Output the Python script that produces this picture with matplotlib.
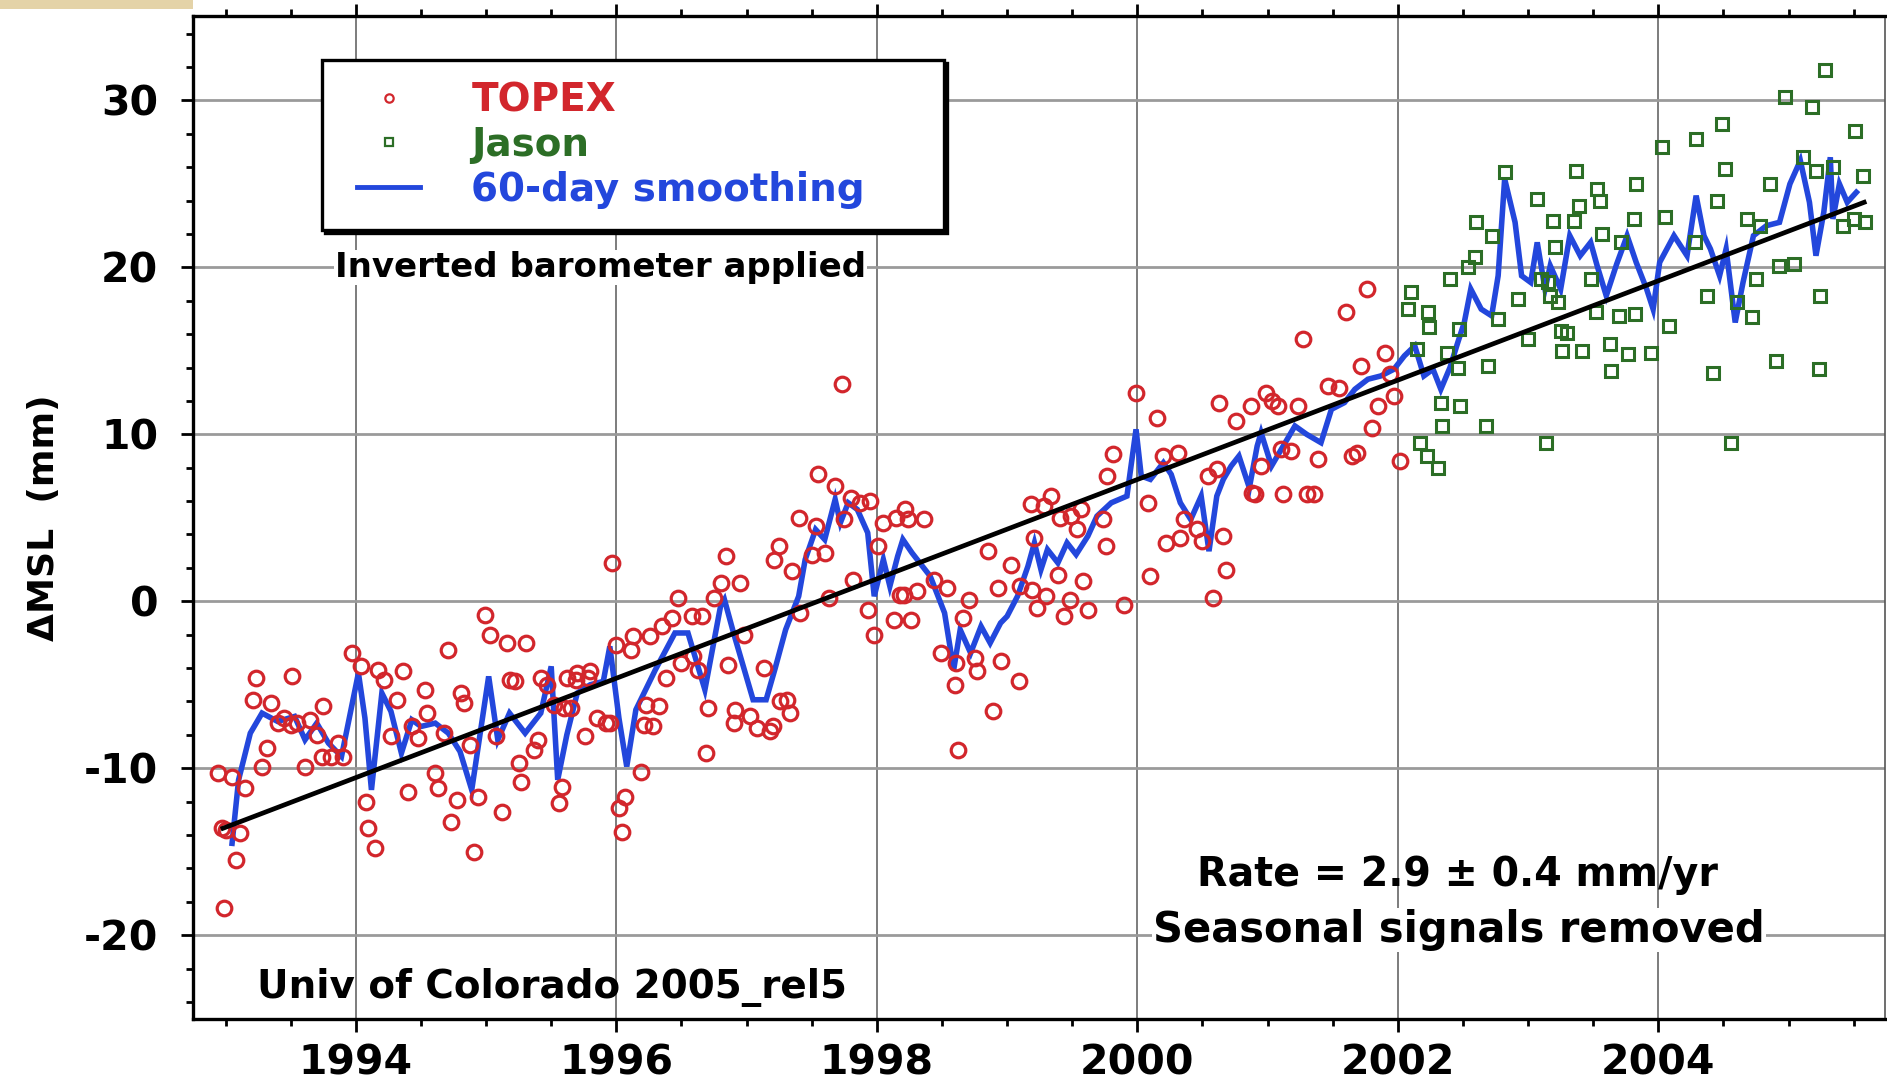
import matplotlib
matplotlib.use("Agg")
import matplotlib.pyplot as plt
from matplotlib.lines import Line2D
from matplotlib.patches import Rectangle
from matplotlib.legend_handler import HandlerLine2D

plt.rcParams['font.family'] = ['DejaVu Sans']
plt.rcParams['axes.unicode_minus'] = False

# ---------------- data ----------------
topex_years = [1992.94, 1992.97, 1992.99, 1993.00, 1993.05, 1993.08, 1993.11, 1993.15, 1993.21, 1993.23,
               1993.28, 1993.32, 1993.35, 1993.40, 1993.45, 1993.50, 1993.51, 1993.55, 1993.61, 1993.65,
               1993.70, 1993.74, 1993.75, 1993.81, 1993.86, 1993.90, 1993.97, 1994.04, 1994.08, 1994.09,
               1994.15, 1994.17, 1994.22, 1994.27, 1994.32, 1994.36, 1994.40, 1994.43, 1994.48, 1994.53,
               1994.55, 1994.61, 1994.63, 1994.68, 1994.71, 1994.73, 1994.78, 1994.81, 1994.83, 1994.88,
               1994.91, 1994.94, 1994.99, 1995.03, 1995.08, 1995.12, 1995.16, 1995.18, 1995.22, 1995.25,
               1995.27, 1995.31, 1995.37, 1995.40, 1995.42, 1995.47, 1995.52, 1995.56, 1995.58, 1995.60,
               1995.62, 1995.65, 1995.69, 1995.70, 1995.76, 1995.78, 1995.80, 1995.85, 1995.92, 1995.95,
               1995.97, 1996.00, 1996.02, 1996.04, 1996.07, 1996.11, 1996.13, 1996.19, 1996.21, 1996.23,
               1996.26, 1996.28, 1996.33, 1996.35, 1996.38, 1996.43, 1996.47, 1996.50, 1996.58, 1996.59,
               1996.63, 1996.66, 1996.69, 1996.70, 1996.75, 1996.80, 1996.84, 1996.86, 1996.90, 1996.91,
               1996.95, 1996.98, 1997.03, 1997.08, 1997.13, 1997.18, 1997.20, 1997.21, 1997.25, 1997.26,
               1997.31, 1997.33, 1997.35, 1997.40, 1997.41, 1997.50, 1997.53, 1997.55, 1997.60, 1997.63,
               1997.68, 1997.73, 1997.75, 1997.80, 1997.82, 1997.87, 1997.93, 1997.95, 1997.98, 1998.01,
               1998.05, 1998.13, 1998.15, 1998.18, 1998.21, 1998.22, 1998.24, 1998.26, 1998.31, 1998.36,
               1998.44, 1998.49, 1998.54, 1998.60, 1998.61, 1998.62, 1998.66, 1998.71, 1998.75, 1998.77,
               1998.85, 1998.89, 1998.93, 1998.95, 1999.03, 1999.09, 1999.10, 1999.18, 1999.19, 1999.21,
               1999.23, 1999.28, 1999.30, 1999.34, 1999.39, 1999.41, 1999.44, 1999.48, 1999.49, 1999.54,
               1999.57, 1999.58, 1999.62, 1999.74, 1999.76, 1999.77, 1999.81, 1999.90, 1999.99, 2000.08,
               2000.10, 2000.15, 2000.20, 2000.22, 2000.31, 2000.33, 2000.36, 2000.46, 2000.50, 2000.54,
               2000.58, 2000.61, 2000.63, 2000.66, 2000.68, 2000.76, 2000.87, 2000.88, 2000.90, 2000.95,
               2000.99, 2001.03, 2001.08, 2001.10, 2001.12, 2001.18, 2001.23, 2001.27, 2001.30, 2001.36,
               2001.39, 2001.46, 2001.55, 2001.60, 2001.65, 2001.69, 2001.72, 2001.76, 2001.80, 2001.85,
               2001.90, 2001.94, 2001.97, 2002.02]
topex_vals = [-10.3, -13.6, -18.4, -13.7, -10.5, -15.5, -13.9, -11.2, -5.9, -4.6,
              -9.9, -8.8, -6.1, -7.3, -7.0, -7.4, -4.5, -7.3, -9.9, -7.1,
              -8.0, -9.3, -6.3, -9.3, -8.5, -9.3, -3.1, -3.9, -12.0, -13.6,
              -14.8, -4.1, -4.7, -8.1, -5.9, -4.2, -11.4, -7.5, -8.2, -5.3,
              -6.7, -10.3, -11.2, -7.9, -2.9, -13.2, -11.9, -5.5, -6.1, -8.6,
              -15.0, -11.7, -0.8, -2.0, -8.1, -12.6, -2.5, -4.7, -4.8, -9.7,
              -10.8, -2.5, -8.9, -8.3, -4.6, -5.0, -6.2, -12.1, -11.1, -6.4,
              -4.6, -6.4, -4.7, -4.3, -8.1, -4.6, -4.2, -7.0, -7.3, -7.3,
              2.3, -2.6, -12.4, -13.8, -11.7, -2.9, -2.1, -10.2, -7.4, -6.2,
              -2.1, -7.5, -6.3, -1.5, -4.6, -1.0, 0.2, -3.7, -0.9, -3.3,
              -4.1, -0.9, -9.1, -6.4, 0.2, 1.1, 2.7, -3.8, -7.3, -6.5,
              1.1, -2.0, -6.9, -7.6, -4.0, -7.8, -7.5, 2.5, 3.3, -6.0,
              -5.9, -6.7, 1.8, 5.0, -0.7, 2.8, 4.5, 7.6, 2.9, 0.2,
              6.9, 13.0, 4.9, 6.2, 1.3, 5.9, -0.5, 6.0, -2.0, 3.3,
              4.7, -1.1, 5.0, 0.4, 0.4, 5.5, 4.9, -1.1, 0.6, 4.9,
              1.3, -3.1, 0.8, -5.0, -3.7, -8.9, -1.0, 0.1, -3.4, -4.2,
              3.0, -6.6, 0.8, -3.6, 2.2, -4.8, 0.9, 5.8, 0.7, 3.8,
              -0.4, 5.7, 0.3, 6.3, 1.6, 5.0, -0.9, 0.1, 5.1, 4.3,
              5.5, 1.2, -0.5, 4.9, 3.3, 7.5, 8.8, -0.2, 12.5, 5.9,
              1.5, 11.0, 8.7, 3.5, 8.9, 3.8, 4.9, 4.3, 3.6, 7.5,
              0.2, 7.9, 11.9, 3.9, 1.9, 10.8, 11.7, 6.5, 6.4, 8.1,
              12.5, 12.0, 11.7, 9.1, 6.4, 9.0, 11.7, 15.7, 6.4, 6.4,
              8.5, 12.9, 12.8, 17.3, 8.7, 8.9, 14.1, 18.7, 10.4, 11.7,
              14.9, 13.6, 12.3, 8.4]

jason_years = [2002.08, 2002.10, 2002.15, 2002.17, 2002.22, 2002.23, 2002.24, 2002.31, 2002.33, 2002.34,
               2002.38, 2002.40, 2002.46, 2002.47, 2002.48, 2002.54, 2002.59, 2002.60, 2002.68, 2002.69,
               2002.72, 2002.77, 2002.82, 2002.92, 2003.00, 2003.07, 2003.10, 2003.14, 2003.15, 2003.17,
               2003.19, 2003.21, 2003.23, 2003.25, 2003.26, 2003.30, 2003.35, 2003.37, 2003.39, 2003.41,
               2003.48, 2003.52, 2003.53, 2003.55, 2003.57, 2003.63, 2003.64, 2003.70, 2003.71, 2003.77,
               2003.81, 2003.82, 2003.83, 2003.94, 2004.03, 2004.05, 2004.08, 2004.28, 2004.29, 2004.37,
               2004.42, 2004.45, 2004.49, 2004.51, 2004.56, 2004.60, 2004.68, 2004.72, 2004.75, 2004.78,
               2004.86, 2004.90, 2004.93, 2004.97, 2005.04, 2005.11, 2005.18, 2005.21, 2005.23, 2005.24,
               2005.28, 2005.34, 2005.42, 2005.50, 2005.51, 2005.57, 2005.59]
jason_vals = [17.5, 18.5, 15.1, 9.5, 8.7, 17.3, 16.4, 8.0, 11.9, 10.5,
              14.9, 19.3, 14.0, 16.3, 11.7, 20.0, 20.6, 22.7, 10.5, 14.1,
              21.9, 16.9, 25.7, 18.1, 15.7, 24.1, 19.3, 9.5, 19.1, 18.3,
              22.8, 21.2, 17.9, 16.2, 15.0, 16.1, 22.8, 25.8, 23.7, 15.0,
              19.3, 17.3, 24.7, 24.0, 22.0, 15.4, 13.8, 17.1, 21.5, 14.8,
              22.9, 17.2, 25.0, 14.9, 27.2, 23.0, 16.5, 21.5, 27.7, 18.3,
              13.7, 24.0, 28.6, 25.9, 9.5, 17.9, 22.9, 17.0, 19.3, 22.5,
              25.0, 14.4, 20.1, 30.2, 20.2, 26.6, 29.6, 25.8, 13.9, 18.3,
              31.8, 26.0, 22.5, 22.9, 28.2, 25.5, 22.7]

smooth_years = [1993.05, 1993.10, 1993.19, 1993.28, 1993.40, 1993.53, 1993.61, 1993.70, 1993.79, 1993.89,
                1993.95, 1994.02, 1994.07, 1994.12, 1994.20, 1994.27, 1994.35, 1994.43, 1994.50, 1994.61,
                1994.71, 1994.80, 1994.89, 1995.02, 1995.09, 1995.18, 1995.30, 1995.42, 1995.50, 1995.55,
                1995.62, 1995.70, 1995.80, 1995.90, 1995.95, 1996.02, 1996.08, 1996.15, 1996.30, 1996.45,
                1996.55, 1996.68, 1996.80, 1996.83, 1996.90, 1997.05, 1997.15, 1997.22, 1997.30, 1997.40,
                1997.45, 1997.53, 1997.60, 1997.68, 1997.72, 1997.78, 1997.85, 1997.93, 1997.98, 1998.05,
                1998.10, 1998.16, 1998.20, 1998.27, 1998.41, 1998.52, 1998.59, 1998.64, 1998.72, 1998.80,
                1998.87, 1998.95, 1999.00, 1999.08, 1999.16, 1999.21, 1999.26, 1999.31, 1999.39, 1999.46,
                1999.53, 1999.62, 1999.69, 1999.80, 1999.92, 1999.99, 2000.03, 2000.10, 2000.20, 2000.26,
                2000.33, 2000.41, 2000.49, 2000.55, 2000.61, 2000.66, 2000.72, 2000.78, 2000.86, 2000.92,
                2000.95, 2001.03, 2001.12, 2001.21, 2001.30, 2001.41, 2001.49, 2001.59, 2001.67, 2001.77,
                2001.87, 2001.97, 2002.05, 2002.13, 2002.20, 2002.27, 2002.33, 2002.40, 2002.46, 2002.51,
                2002.56, 2002.64, 2002.72, 2002.77, 2002.82, 2002.90, 2002.95, 2003.02, 2003.07, 2003.13,
                2003.17, 2003.25, 2003.32, 2003.40, 2003.48, 2003.53, 2003.60, 2003.68, 2003.76, 2003.83,
                2003.91, 2003.96, 2004.01, 2004.12, 2004.22, 2004.29, 2004.35, 2004.40, 2004.47, 2004.52,
                2004.59, 2004.65, 2004.73, 2004.83, 2004.93, 2005.01, 2005.09, 2005.16, 2005.21, 2005.27,
                2005.32, 2005.34, 2005.39, 2005.45, 2005.52]
smooth_vals = [-14.5, -10.7, -7.9, -6.7, -7.2, -6.9, -8.3, -7.3, -8.5, -9.3,
               -7.0, -4.3, -7.0, -11.3, -5.5, -6.6, -9.1, -7.1, -7.5, -7.3,
               -7.9, -9.0, -11.3, -4.5, -8.3, -6.7, -7.9, -6.7, -3.9, -10.7,
               -8.0, -5.5, -5.0, -4.8, -2.7, -7.0, -9.9, -6.5, -4.1, -1.9,
               -1.9, -5.3, -0.3, 0.1, -1.9, -5.9, -5.9, -4.0, -1.7, 0.3,
               2.5, 4.3, 3.7, 6.1, 4.7, 5.9, 5.5, 4.1, 0.3, 2.5,
               0.9, 2.7, 3.7, 2.9, 1.5, -0.7, -4.1, -1.7, -3.1, -1.5,
               -2.5, -1.3, -0.9, 0.3, 2.1, 3.5, 1.9, 3.1, 2.3, 3.5,
               2.8, 3.9, 5.1, 5.9, 6.3, 10.3, 7.5, 7.3, 8.3, 7.6,
               5.9, 4.9, 6.3, 3.0, 6.3, 7.3, 8.1, 8.7, 6.8, 9.3,
               10.1, 8.1, 9.3, 10.5, 10.0, 9.5, 11.5, 11.9, 12.7, 13.3,
               13.5, 13.9, 14.7, 15.3, 13.5, 13.9, 12.7, 14.0, 15.5, 16.7,
               18.7, 17.5, 17.1, 19.5, 25.3, 22.7, 19.5, 19.1, 21.5, 18.7,
               20.1, 18.7, 21.9, 20.7, 21.5, 20.1, 18.3, 20.2, 21.9, 20.3,
               18.7, 17.5, 20.3, 21.9, 20.7, 24.3, 21.9, 21.1, 19.5, 21.1,
               16.7, 19.1, 21.9, 22.5, 22.7, 25.0, 26.4, 23.9, 20.7, 23.3,
               26.6, 22.9, 25.0, 23.9, 24.5]

trend_years = [1992.98, 2005.58]
trend_vals = [-13.6, 23.9]

x_ticks = [1994, 1996, 1998, 2000, 2002, 2004]
y_ticks = [-20, -10, 0, 10, 20, 30]

legend_labels = ["TOPEX", "Jason", "60-day smoothing"]

# ---------------- style ----------------
red = '#d2262c'
green = '#2c6e26'
blue = '#2347dc'

fig = plt.figure(figsize=(18.87, 10.84), dpi=100)
ax = fig.add_axes([193/1887, 1 - 1018.6/1084, 1692/1887, (1018.6 - 16)/1084])

ax.plot(smooth_years, smooth_vals, color=blue, lw=4.0, zorder=3, solid_joinstyle='miter')
ax.plot(topex_years, topex_vals, linestyle='none', marker='o', ms=10.5, mfc='none',
        mec=red, mew=2.3, zorder=4)
ax.plot(jason_years, jason_vals, linestyle='none', marker='s', ms=9.0, mfc='none',
        mec=green, mew=2.2, zorder=4)
ax.plot(trend_years, trend_vals, color='black', lw=3.4, zorder=5)

ax.set_xlim(1992.75, 2005.74)
ax.set_ylim(-25.0, 35.06)
ax.set_xticks(x_ticks)
ax.set_xticklabels([str(v) for v in x_ticks])
ax.set_yticks(y_ticks)
ax.set_yticklabels([str(v) for v in y_ticks])
ax.set_xticks([1993 + 0.5 * i for i in range(26) if (1993 + 0.5 * i) not in x_ticks], minor=True)
ax.set_yticks([v for v in range(-24, 35, 2) if v not in y_ticks], minor=True)

ax.xaxis.grid(True, which='major', color='#7c7c7c', lw=1.4, zorder=0)
ax.yaxis.grid(True, which='major', color='#9a9a9a', lw=2.0, zorder=0)
ax.set_axisbelow(True)

for s in ['left', 'bottom', 'top']:
    ax.spines[s].set_linewidth(2.4)
ax.spines['right'].set_linewidth(1.2)
ax.spines['right'].set_color('#555555')

ax.tick_params(axis='x', which='both', direction='out', top=True, bottom=True, width=2)
ax.tick_params(axis='x', which='major', length=9, pad=9, labelsize=29.5)
ax.tick_params(axis='x', which='minor', length=5)
ax.tick_params(axis='y', which='both', direction='out', left=True, right=False, width=2)
ax.tick_params(axis='y', which='major', length=9, pad=16, labelsize=29.5)
ax.tick_params(axis='y', which='minor', length=5)
for lab in ax.get_xticklabels() + ax.get_yticklabels():
    lab.set_fontweight('bold')

ax.set_ylabel('ΔMSL  (mm)', fontsize=26, fontweight='bold')
ax.yaxis.set_label_coords(-0.0782, 0.5)

# legend
handles = [Line2D([], [], linestyle='none', marker='o', ms=6, mfc='none', mec=red, mew=1.6),
           Line2D([], [], linestyle='none', marker='s', ms=6, mfc='none', mec=green, mew=1.6),
           Line2D([], [], color=blue, lw=3.5)]
hmap = {h: HandlerLine2D(xpad=0.36) for h in handles}
leg = ax.legend(handles, legend_labels, loc='upper left', handler_map=hmap,
                bbox_to_anchor=(0.0762, 0.9561 - 0.1676, 0.3676, 0.1676), mode='expand',
                borderaxespad=0, frameon=True, fancybox=False,
                edgecolor='black', framealpha=1, handlelength=1.98, handletextpad=1.31,
                borderpad=0.55, labelspacing=0.17, prop={'weight': 'bold', 'size': 28},
                shadow={'color': 'black', 'alpha': 1.0})
leg.get_frame().set_linewidth(2.4)
leg.set_zorder(10)
for t, c in zip(leg.get_texts(), [red, green, blue]):
    t.set_color(c)

white_box = dict(facecolor='white', edgecolor='none', pad=1)
ax.text(1993.84, 20.0, 'Inverted barometer applied', fontsize=24.5, fontweight='bold',
        ha='left', va='center', bbox=white_box, zorder=6)
ax.text(1993.24, -23.12, 'Univ of Colorado 2005_rel5', fontsize=28, fontweight='bold',
        ha='left', va='center', zorder=6)
ax.text(2002.46, -16.41, 'Rate = 2.9 ± 0.4 mm/yr', fontsize=28.5, fontweight='bold',
        ha='center', va='center', zorder=6)
ax.text(2002.47, -19.7, 'Seasonal signals removed', fontsize=30, fontweight='bold',
        ha='center', va='center', bbox=white_box, zorder=6)

# beige corner fragment
fig.patches.append(Rectangle((0, 1 - 9/1084), 193/1887, 9/1084, transform=fig.transFigure,
                             facecolor='#e4d3a8', edgecolor='none'))

fig.savefig('out.png', dpi=100)
